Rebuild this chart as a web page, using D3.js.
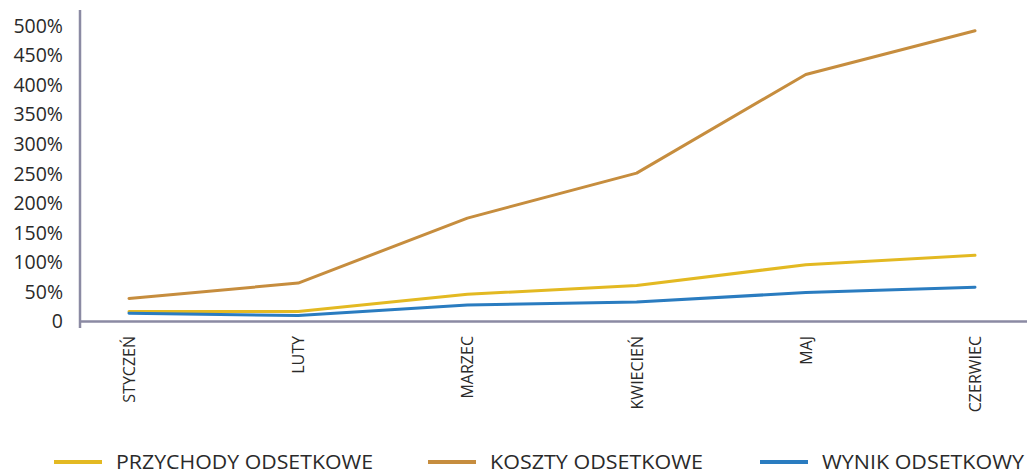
<!DOCTYPE html>
<html>
<head>
<meta charset="utf-8">
<script src="https://cdn.jsdelivr.net/npm/d3@7"></script>
<style>
  html, body { margin: 0; padding: 0; background: #fff; }
  svg { display: block; }
  text { font-family: "Open Sans", "Liberation Sans", Arial, sans-serif; fill: #2a2a2a; }
</style>
</head>
<body>
<svg id="chart" width="1027" height="474"></svg>
<script>
// Months (x categories)
const months = ["STYCZEŃ", "LUTY", "MARZEC", "KWIECIEŃ", "MAJ", "CZERWIEC"];
// Series values, in percent
const przychody = [17, 17, 46, 61, 96, 112];
const koszty = [39, 65, 175, 251, 418, 492];
const wynik = [14, 10, 28, 33, 49, 58];
// Y tick values and their labels
const yTicks = [0, 50, 100, 150, 200, 250, 300, 350, 400, 450, 500];
const yTickLabels = ["0", "50%", "100%", "150%", "200%", "250%", "300%", "350%", "400%", "450%", "500%"];

const seriesNames = ["PRZYCHODY ODSETKOWE", "KOSZTY ODSETKOWE", "WYNIK ODSETKOWY"];
const seriesColors = ["#e3b922", "#c68d3e", "#2a7cc0"];
const seriesValues = [przychody, koszty, wynik];

const svg = d3.select("#chart");
const axisColor = "#8b8aa3";
const fontStack = "'Open Sans', 'Liberation Sans', Arial, sans-serif";

const x = d3.scalePoint().domain(months).range([129, 975]);
const y = d3.scaleLinear().domain([0, 500]).range([321.5, 26]);

// Y axis labels
const yAxis = d3.axisLeft(y).tickValues(yTicks)
  .tickFormat((d, i) => yTickLabels[i]).tickSize(0).tickPadding(17);
const gy = svg.append("g").attr("transform", "translate(80,0)").call(yAxis);
gy.select(".domain").remove();
gy.selectAll("text").attr("font-size", 19.5).style("font-family", fontStack).attr("fill", "#2a2a2a");

// Axis lines
svg.append("line").attr("x1", 80).attr("x2", 80).attr("y1", 10).attr("y2", 328)
  .attr("stroke", axisColor).attr("stroke-width", 2.5);
svg.append("line").attr("x1", 79).attr("x2", 1027).attr("y1", y(0)).attr("y2", y(0))
  .attr("stroke", axisColor).attr("stroke-width", 2.5);

// X labels, rotated
svg.append("g").selectAll("text").data(months).join("text")
  .attr("transform", d => `translate(${x(d) + 6},336) rotate(-90)`)
  .attr("text-anchor", "end")
  .attr("font-size", 16)
  .attr("font-weight", 500)
  .text(d => d);

// Lines
const line = d3.line().x((d, i) => x(months[i])).y(d => y(d));
seriesValues.forEach((vals, k) => {
  svg.append("path").datum(vals)
    .attr("d", line)
    .attr("fill", "none")
    .attr("stroke", seriesColors[k])
    .attr("stroke-width", 3)
    .attr("stroke-linejoin", "round")
    .attr("stroke-linecap", "round");
});

// Legend
const legendX = [54, 428, 760];
const legendTextW = [257, 213, 202];
const lg = svg.append("g");
seriesNames.forEach((name, k) => {
  lg.append("line")
    .attr("x1", legendX[k]).attr("x2", legendX[k] + 48)
    .attr("y1", 462).attr("y2", 462)
    .attr("stroke", seriesColors[k]).attr("stroke-width", 4);
  lg.append("text")
    .attr("x", legendX[k] + 62).attr("y", 469)
    .attr("font-size", 19.5)
    .attr("textLength", legendTextW[k])
    .attr("lengthAdjust", "spacingAndGlyphs")
    .text(name);
});
</script>
</body>
</html>
